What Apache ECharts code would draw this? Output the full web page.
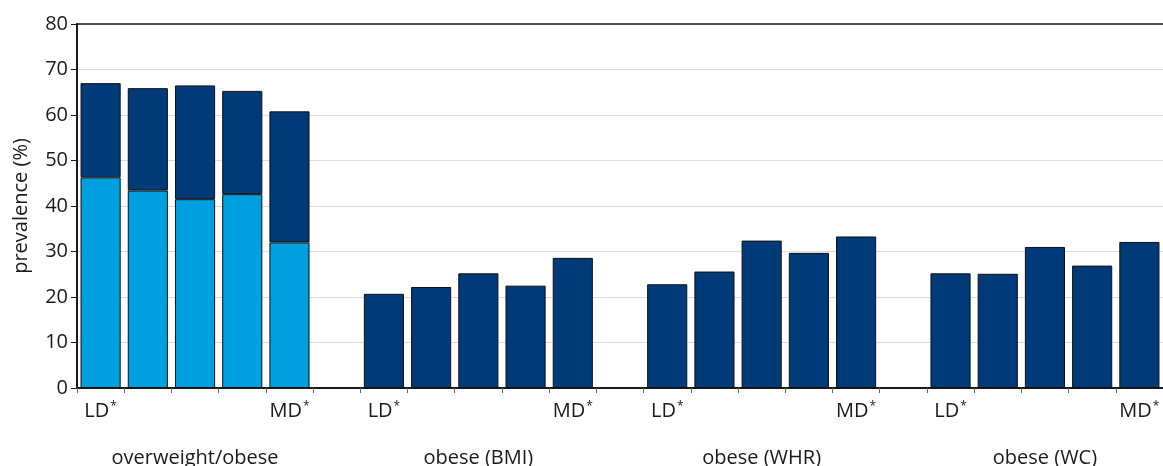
<!DOCTYPE html>
<html>
<head>
<meta charset="utf-8">
<script src="https://cdn.jsdelivr.net/npm/echarts@6/dist/echarts.min.js"></script>
<style>html,body{margin:0;padding:0;background:#fff}#c{width:1163px;height:466px}</style>
</head>
<body>
<div id="c"></div>
<script>
// ---- data ----
var groupNames = ['overweight/obese', 'obese (BMI)', 'obese (WHR)', 'obese (WC)'];
var barLabels = ['LD', '', '', '', 'MD'];
var owLower = [46.3, 43.4, 41.5, 42.6, 32.0];   // light blue (lower part)
var owTotal = [67.0, 65.9, 66.5, 65.3, 60.8];   // total height
var obeseBMI = [20.7, 22.2, 25.2, 22.5, 28.6];
var obeseWHR = [22.8, 25.6, 32.4, 29.7, 33.3];
var obeseWC = [25.2, 25.1, 31.0, 26.9, 32.1];
var yTicks = [0, 10, 20, 30, 40, 50, 60, 70, 80];

// ---- build categories (5 bars per group, 1 gap between groups) ----
var cats = [], lower = [], upper = [];
var groupVals = [null, obeseBMI, obeseWHR, obeseWC];
for (var g = 0; g < groupNames.length; g++) {
  for (var i = 0; i < 5; i++) {
    cats.push({g: g, i: i});
    if (g === 0) {
      lower.push(owLower[i]);
      upper.push(+(owTotal[i] - owLower[i]).toFixed(2));
    } else {
      lower.push('-');
      upper.push(groupVals[g][i]);
    }
  }
  if (g < groupNames.length - 1) { cats.push(null); lower.push('-'); upper.push('-'); }
}
var catNames = cats.map(function (c, k) { return 'c' + k; });

var FONT = 'Open Sans';
var chart = echarts.init(document.getElementById('c'), null, {renderer: 'canvas'});
chart.setOption({
  animation: false,
  grid: {left: 77, right: 0, top: 24, bottom: 78, containLabel: false, outerBoundsMode: 'none'},
  xAxis: [{
    type: 'category',
    data: catNames,
    boundaryGap: true,
    axisLine: {show: true, lineStyle: {color: '#1a1a1a', width: 2}},
    axisTick: {show: true, length: 5, lineStyle: {color: '#666', width: 1}, interval: 0},
    axisLabel: {
      interval: 0,
      margin: 13,
      formatter: function (v, idx) {
        var c = cats[idx];
        if (!c) return '';
        var s = '';
        if (barLabels[c.i]) s = '{t|' + barLabels[c.i] + '}{s|*}';
        if (c.i === 2) s = '{e|}\n{g|' + groupNames[c.g] + '}';
        return s;
      },
      rich: {
        t: {fontFamily: FONT, fontSize: 20, color: '#1a1a1a', verticalAlign: 'top'},
        s: {fontFamily: FONT, fontSize: 12, color: '#1a1a1a', verticalAlign: 'top', padding: [0, 0, 7, 1]},
        e: {height: 46, fontSize: 20},
        g: {fontFamily: FONT, fontSize: 20, color: '#1a1a1a', height: 22}
      }
    },
    splitLine: {show: false}
  }, {
    type: 'category',
    data: catNames,
    position: 'top',
    axisLine: {show: true, lineStyle: {color: '#1a1a1a', width: 1.5}},
    axisTick: {show: false},
    axisLabel: {show: false}
  }],
  yAxis: {
    type: 'value',
    min: yTicks[0], max: yTicks[yTicks.length - 1], interval: 10,
    name: 'prevalence (%)',
    nameLocation: 'middle',
    nameGap: 46,
    nameRotate: 90,
    nameTextStyle: {fontFamily: FONT, fontSize: 20, color: '#1a1a1a'},
    axisLine: {show: true, lineStyle: {color: '#1a1a1a', width: 2}},
    axisTick: {show: true, length: 6, lineStyle: {color: '#1a1a1a'}},
    axisLabel: {fontFamily: FONT, fontSize: 20, color: '#1a1a1a', margin: 9},
    splitLine: {show: true, lineStyle: {color: '#dcdcdc', width: 1}}
  },
  series: [{
    type: 'bar', stack: 'a', data: lower, barCategoryGap: '15%',
    itemStyle: {color: '#009fdf', borderColor: '#111', borderWidth: 1}
  }, {
    type: 'bar', stack: 'a', data: upper, barCategoryGap: '15%',
    itemStyle: {color: '#003a78', borderColor: '#111', borderWidth: 1}
  }]
});
</script>
</body>
</html>
